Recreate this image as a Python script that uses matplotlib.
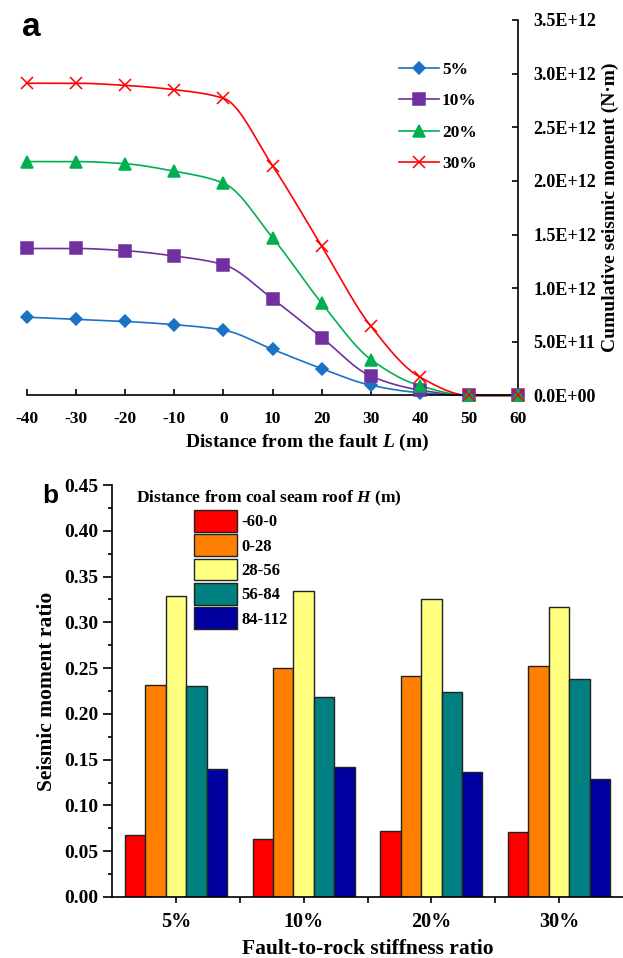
import numpy as np
import matplotlib
matplotlib.use('Agg')
import matplotlib.pyplot as plt
from matplotlib.ticker import FuncFormatter, MultipleLocator
from matplotlib.patches import Patch

plt.rcParams['font.family'] = 'Liberation Serif'
plt.rcParams['font.weight'] = 'bold'
plt.rcParams['axes.unicode_minus'] = False
plt.rcParams['mathtext.fontset'] = 'custom'
plt.rcParams['mathtext.it'] = 'Liberation Serif:italic:bold'
plt.rcParams['mathtext.rm'] = 'Liberation Serif:bold'

# panel a: cumulative seismic moment (x1e12 N·m) vs. distance from the fault
dist = [-40, -30, -20, -10, 0, 10, 20, 30, 40, 50, 60]
m_5 = [0.73, 0.71, 0.69, 0.66, 0.61, 0.43, 0.25, 0.095, 0.025, 0.0, 0.0]
m_10 = [1.37, 1.37, 1.35, 1.30, 1.22, 0.90, 0.54, 0.18, 0.05, 0.0, 0.0]
m_20 = [2.18, 2.18, 2.16, 2.09, 1.98, 1.47, 0.86, 0.335, 0.09, 0.0, 0.0]
m_30 = [2.91, 2.91, 2.89, 2.85, 2.77, 2.14, 1.39, 0.645, 0.17, 0.0, 0.0]
series_labels = ['5%', '10%', '20%', '30%']

# panel b: seismic moment ratio per layer
stiffness = ['5%', '10%', '20%', '30%']
layers = ['-60-0', '0-28', '28-56', '56-84', '84-112']
ratio_5 = [0.068, 0.232, 0.329, 0.231, 0.140]
ratio_10 = [0.063, 0.250, 0.334, 0.218, 0.142]
ratio_20 = [0.072, 0.241, 0.325, 0.224, 0.136]
ratio_30 = [0.071, 0.252, 0.317, 0.238, 0.129]


def pchip(x, y, n=400):
    # monotone cubic curve through the data points
    x = np.asarray(x, float)
    y = np.asarray(y, float)
    h = np.diff(x)
    d = np.diff(y) / h
    m = np.zeros_like(y)
    for k in range(1, len(x) - 1):
        if d[k - 1] * d[k] > 0:
            w1 = 2 * h[k] + h[k - 1]
            w2 = h[k] + 2 * h[k - 1]
            m[k] = (w1 + w2) / (w1 / d[k - 1] + w2 / d[k])
    m[0] = d[0]
    m[-1] = d[-1]
    xs = np.linspace(x[0], x[-1], n)
    idx = np.clip(np.searchsorted(x, xs) - 1, 0, len(x) - 2)
    t = (xs - x[idx]) / h[idx]
    h00 = 2 * t**3 - 3 * t**2 + 1
    h10 = t**3 - 2 * t**2 + t
    h01 = -2 * t**3 + 3 * t**2
    h11 = t**3 - t**2
    ys = h00 * y[idx] + h10 * h[idx] * m[idx] + h01 * y[idx + 1] + h11 * h[idx] * m[idx + 1]
    return xs, ys


fig = plt.figure(figsize=(6.23, 9.58), dpi=100)

# ---- panel a ----
ax1 = fig.add_axes([0.0428, 0.5872, 0.7894, 0.392])
styles = [
    ('#1a72c6', 'D', 6.5, m_5),
    ('#7030a0', 's', 8, m_10),
    ('#00b050', '^', 8, m_20),
    ('#ff0000', 'x', 8, m_30),
]
for (c, mk, ms, vals), lab in zip(styles, series_labels):
    y = np.array(vals) * 1e12
    xs, ys = pchip(dist, y)
    ax1.plot(xs, ys, color=c, lw=1.2, clip_on=False)
    ax1.plot(dist, y, ls='none', marker=mk, ms=ms, color=c, mew=1.1, clip_on=False, zorder=3)
    ax1.plot([], [], color=c, lw=1.2, marker=mk, ms=ms, mew=1.1, label=lab)

ax1.set_xlim(-40, 60)
ax1.set_ylim(0, 3.5e12)
ax1.set_xticks(dist)
ax1.yaxis.set_major_locator(MultipleLocator(0.5e12))
ax1.yaxis.set_major_formatter(FuncFormatter(lambda v, p: '{:.1E}'.format(v)))
ax1.yaxis.tick_right()
ax1.yaxis.set_label_position('right')
ax1.spines['left'].set_visible(False)
ax1.spines['top'].set_visible(False)
for s in ['bottom', 'right']:
    ax1.spines[s].set_linewidth(1.2)
ax1.tick_params(direction='in', length=4, width=1.2)
ax1.tick_params(axis='x', labelsize=12.5, pad=11)
ax1.tick_params(axis='y', labelsize=13, pad=10.7)
ax1.set_xlabel('Distance from the fault $L$ (m)', fontsize=14, fontweight='bold',
               labelpad=4, x=0.57)
ax1.set_ylabel('Cumulative seismic moment (N·m)', fontsize=14, fontweight='bold', labelpad=4)
ax1.legend(loc='upper left', bbox_to_anchor=(0.758, 0.888), frameon=False, fontsize=12.5,
           handlelength=2.25, handletextpad=0.2, labelspacing=0.875, borderpad=0,
           borderaxespad=0)
fig.text(0.0353, 0.9624, 'a', fontsize=24, fontweight='bold', family='Liberation Sans',
         va='baseline')

# ---- panel b ----
ax2 = fig.add_axes([0.1798, 0.0637, 0.8202, 0.430])
bar_colors = ['#ff0000', '#ff8000', '#ffff80', '#008080', '#0000a0']
groups = np.array([ratio_5, ratio_10, ratio_20, ratio_30])
xpos = np.arange(len(stiffness))
width = 0.16
for j, (lab, c) in enumerate(zip(layers, bar_colors)):
    ax2.bar(xpos + (j - 2) * width, groups[:, j], width, color=c, edgecolor='#222222', lw=1.0, label=lab)

ax2.set_xlim(-0.5, 3.5)
ax2.set_ylim(0, 0.45)
ax2.set_xticks(xpos)
ax2.set_xticklabels(stiffness)
ax2.set_xticks(xpos[:-1] + 0.5, minor=True)
ax2.yaxis.set_major_locator(MultipleLocator(0.05))
ax2.yaxis.set_minor_locator(MultipleLocator(0.025))
ax2.yaxis.set_major_formatter(FuncFormatter(lambda v, p: '{:.2f}'.format(v)))
ax2.spines['top'].set_visible(False)
ax2.spines['right'].set_visible(False)
for s in ['bottom', 'left']:
    ax2.spines[s].set_linewidth(1.2)
ax2.tick_params(which='both', direction='out', width=1.2)
ax2.tick_params(axis='y', which='major', length=6.5, labelsize=14, pad=3.5)
ax2.tick_params(axis='y', which='minor', length=3.2)
ax2.tick_params(axis='x', which='both', length=4, labelsize=14.5, pad=7)
ax2.set_xlabel('Fault-to-rock stiffness ratio', fontsize=15.5, fontweight='bold', labelpad=4.5)
ax2.set_ylabel('Seismic moment ratio', fontsize=15.5, fontweight='bold', labelpad=5)

handles = [Patch(facecolor=c, edgecolor='#222222', lw=1.0) for c in bar_colors]
ax2.legend(handles, layers, loc='upper left', bbox_to_anchor=(0.1605, 0.939), frameon=False,
           fontsize=12, handlelength=2.58, handleheight=1.61, handletextpad=0.25,
           labelspacing=0.167, borderpad=0, borderaxespad=0)
ax2.text(0.047, 0.968, 'Distance from coal seam roof $H$ (m)', transform=ax2.transAxes,
         fontsize=12.5, fontweight='bold', va='center', ha='left')
fig.text(0.067, 0.475, 'b', fontsize=19, fontweight='bold', family='Liberation Sans',
         va='baseline')

fig.savefig('out.png', dpi=100)
